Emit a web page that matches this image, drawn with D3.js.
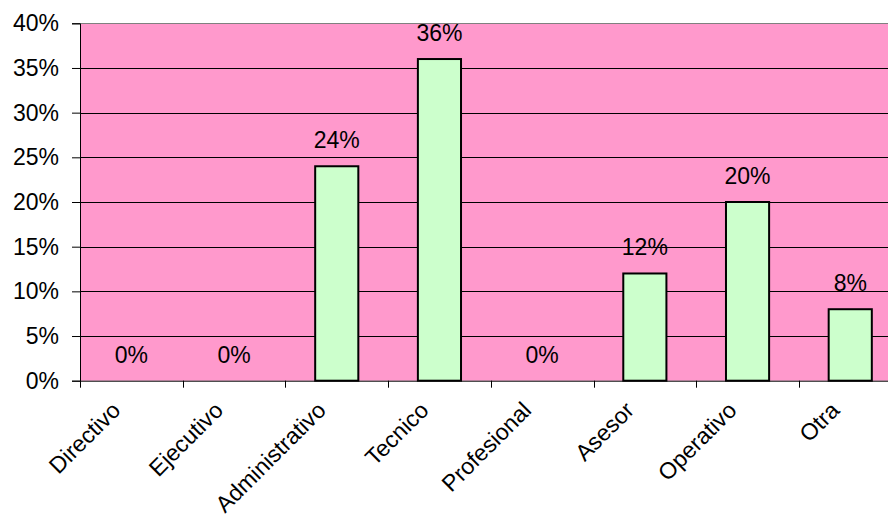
<!DOCTYPE html>
<html><head><meta charset="utf-8">
<script src="https://cdn.jsdelivr.net/npm/d3@7"></script>
<style>body{margin:0;background:#fff}svg{display:block}text{font-family:"Liberation Sans",Arial,sans-serif;fill:#000}</style>
</head><body><svg id="c" width="888" height="524"></svg>
<script>
const categories = ["Directivo","Ejecutivo","Administrativo","Tecnico","Profesional","Asesor","Operativo","Otra"];
const values = [0,0,24,36,0,12,20,8];
const yTicks = [0,5,10,15,20,25,30,35,40];

const svg = d3.select("#c");
const L = 80, T = 23.3, B = 380.7, R = 80 + 8*102.7;
const FS = "23px";
const x = d3.scaleBand().domain(categories).range([L, R]).paddingInner(0.58).paddingOuter(0.29);
const xc = d3.scaleBand().domain(categories).range([L, R]);
const y = d3.scaleLinear().domain([0,40]).range([B, T]);

svg.append("rect").attr("x",L).attr("y",T).attr("width",R-L).attr("height",B-T).attr("fill","#FF99CC");
// gridlines
svg.append("g").selectAll("line").data(yTicks.filter(d=>d>0)).join("line")
  .attr("x1",L).attr("x2",R).attr("y1",d=>Math.round(y(d))+0.5).attr("y2",d=>Math.round(y(d))+0.5)
  .attr("stroke",d=>d===40?"#808080":"#000").attr("stroke-width",1);

// y axis
const ya = d3.axisLeft(y).tickValues(yTicks).tickFormat(d=>d+"%").tickSize(8).tickPadding(13);
const gy = svg.append("g").attr("transform",`translate(${L},0)`).call(ya);
gy.select(".domain").attr("stroke","#000");
gy.selectAll("text").style("font-size",FS).attr("fill","#000");

// x axis
const xa = d3.axisBottom(xc).tickSize(0).tickFormat("");
const gx = svg.append("g").attr("transform",`translate(0,${B})`).call(xa);
gx.select(".domain").attr("stroke","#000");
gx.selectAll("line.tk").data(d3.range(categories.length+1)).join("line").attr("class","tk")
  .attr("x1",i=>Math.round(L+i*xc.step())+0.5).attr("x2",i=>Math.round(L+i*xc.step())+0.5)
  .attr("y1",0).attr("y2",7).attr("stroke","#000");

// bars
svg.append("g").selectAll("rect").data(values).join("rect")
  .attr("x",(d,i)=>x(categories[i])).attr("width",x.bandwidth())
  .attr("y",d=>y(d)).attr("height",d=>B-y(d))
  .attr("fill","#CCFFCC").attr("stroke","#000").attr("stroke-width",2)
  .style("display",d=>d>0?null:"none");

// value labels
svg.append("g").selectAll("text").data(values).join("text")
  .attr("x",(d,i)=>xc(categories[i])+xc.bandwidth()/2)
  .attr("y",d=>y(d)-18).attr("text-anchor","middle").style("font-size",FS)
  .text(d=>d+"%");

// category labels
svg.append("g").selectAll("text").data(categories).join("text")
  .attr("transform",d=>`translate(${xc(d)+xc.bandwidth()/2-9.5},${B+31}) rotate(-45)`)
  .attr("text-anchor","end").style("font-size",FS).text(d=>d);
</script></body></html>
